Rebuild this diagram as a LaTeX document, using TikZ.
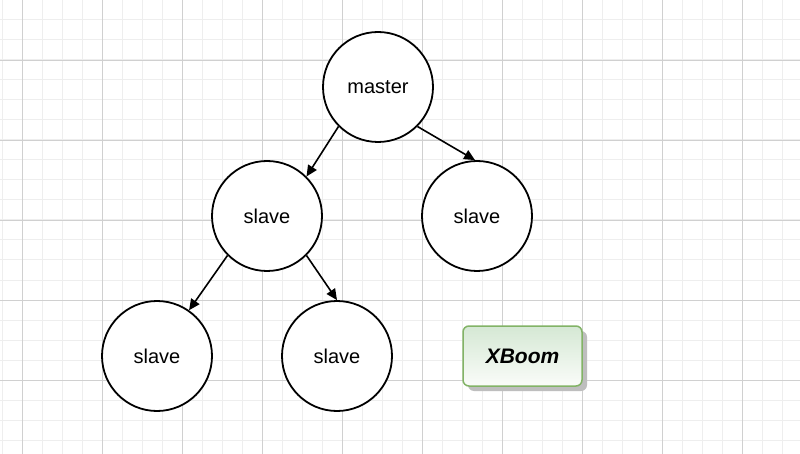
\documentclass[tikz,border=0pt]{standalone}
\usepackage{fontspec}
\setmainfont{Liberation Sans}
\usetikzlibrary{arrows.meta,shadows}
\definecolor{gridminor}{RGB}{238,238,238}
\definecolor{gridmajor}{RGB}{208,208,208}
\definecolor{xbdraw}{RGB}{130,179,102}
\definecolor{xbtop}{RGB}{213,232,212}
\definecolor{xbbot}{RGB}{250,252,249}
\definecolor{shadowc}{RGB}{190,190,190}
\begin{document}
\begin{tikzpicture}[x=1pt,y=-1pt,
  circ/.style={circle,draw=black,line width=1.8pt,minimum size=110pt,inner sep=0pt,font=\fontsize{20}{20}\selectfont,fill=white},
  conn/.style={line width=1.6pt,-{Triangle[length=11pt,width=10pt]}},
  xboom/.style={rounded corners=6pt,draw=xbdraw,line width=1.5pt,
    top color=xbtop,bottom color=xbbot,
    minimum width=119pt,minimum height=60pt,font=\fontsize{21}{21}\selectfont\bfseries\itshape}]
\useasboundingbox (0,0) rectangle (800,454);
\fill[white] (0,0) rectangle (800,454);
\foreach \x in {2,22,...,800} \draw[gridminor,line width=1pt] (\x,0) -- (\x,454);
\foreach \y in {0,20,...,454} \draw[gridminor,line width=1pt] (0,\y) -- (800,\y);
\foreach \x in {22,102,...,800} \draw[gridmajor,line width=0.8pt] (\x,0) -- (\x,454);
\foreach \y in {60,140,220,300,380} \draw[gridmajor,line width=0.8pt] (0,\y) -- (800,\y);
\node[circ] (m) at (378,87) {master};
\node[circ] (s1) at (267,216) {slave};
\node[circ] (s2) at (477,216) {slave};
\node[circ] (s3) at (157,356) {slave};
\node[circ] (s4) at (337,356) {slave};
\fill[shadowc,rounded corners=6pt] (468,331) rectangle (587,391);
\node[xboom] (x) at (522.5,356) {XBoom};
\draw[conn] (m.225) -- (s1.45);
\draw[conn] (m.315) -- (s2.92);
\draw[conn] (s1.225) -- (s3.55);
\draw[conn] (s1.315) -- (s4.90);
\end{tikzpicture}
\end{document}
